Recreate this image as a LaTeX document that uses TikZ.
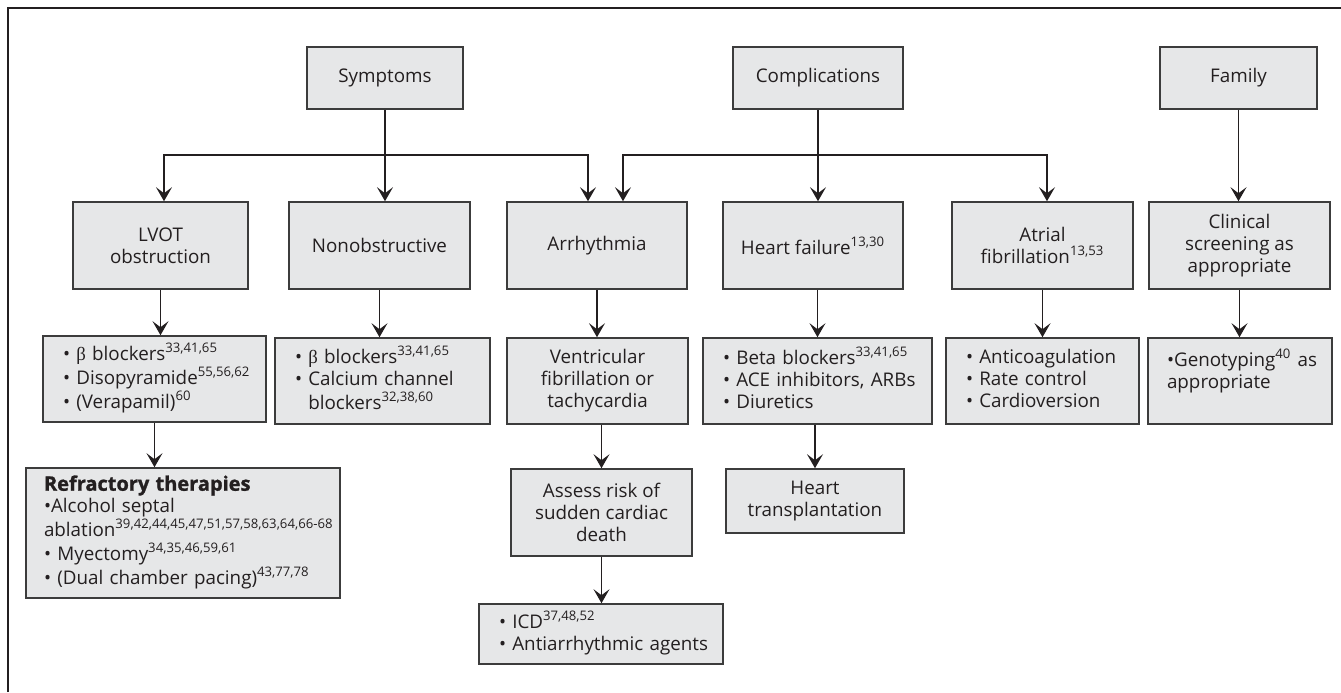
\documentclass[tikz,border=0pt]{standalone}
\usepackage{fontspec}
\setmainfont{Open Sans}
\newfontfamily\betafont{Liberation Serif}
\usetikzlibrary{arrows.meta, positioning, calc}
\definecolor{boxgray}{HTML}{E6E7E8}
\definecolor{linegray}{HTML}{3C3C3C}
\definecolor{inkgray}{HTML}{231F20}
\newcommand{\bl}{{\betafont β}}
\newcommand{\rows}[1]{\begin{tabular}{@{}l@{}}#1\end{tabular}}

\begin{document}
\begin{tikzpicture}[x=0.5pt, y=-0.5pt, font=\fontsize{9.4}{11}\selectfont, text=inkgray,
    box/.style={draw=linegray, line width=0.8pt, fill=boxgray, align=center, inner sep=0pt},
    listbox/.style={box, align=left, inner xsep=10pt},
    flow/.style={-{Stealth[length=7pt, width=8pt, inset=3pt]}, line width=0.65pt, draw=inkgray},
    stem/.style={line width=1pt, draw=inkgray}]
        \useasboundingbox (0,0) rectangle (1341,692);
        \draw[line width=0.6pt, draw=inkgray] (8,692) -- (8,8) -- (1341,8);

        \node[box, minimum width=78pt, minimum height=31pt] (sym) at (385,78) {Symptoms};
        \node[box, minimum width=85pt, minimum height=31pt] (comp) at (818,78) {Complications};
        \node[box, minimum width=78.5pt, minimum height=31pt] (fam) at (1238.5,78) {Family};

        \node[box, minimum width=87.5pt, minimum height=43.5pt] (lvot) at (160.5,245.5) {LVOT\\obstruction};
        \node[box, minimum width=90.5pt, minimum height=43.5pt] (nonob) at (379.5,245.5) {Nonobstructive};
        \node[box, minimum width=90pt, minimum height=43.5pt] (arrh) at (597,245.5) {Arrhythmia};
        \node[box, minimum width=90pt, minimum height=43.5pt] (hf) at (813,245.5) {Heart failure\textsuperscript{13,30}};
        \node[box, minimum width=90.5pt, minimum height=43.5pt] (af) at (1042.5,245.5) {Atrial\\fibrillation\textsuperscript{13,53}};
        \node[box, minimum width=90.5pt, minimum height=43.5pt] (clin) at (1239.5,245.5) {Clinical\\screening as\\appropriate};

        \node[listbox, text width=91.5pt, minimum height=43pt] (lvotrx) at (154.5,379) {\rows{• \bl\ blockers\textsuperscript{33,41,65}\\• Disopyramide\textsuperscript{55,56,62}\\• (Verapamil)\textsuperscript{60}}};
        \node[listbox, text width=87.5pt, minimum height=43pt] (nonrx) at (382.5,381) {\rows{• \bl\ blockers\textsuperscript{33,41,65}\\• Calcium channel\\\phantom{•\ }blockers\textsuperscript{32,38,60}}};
        \node[box, minimum width=90.5pt, minimum height=43pt] (vf) at (597.5,381) {Ventricular\\fibrillation or\\tachycardia};
        \node[listbox, text width=94.5pt, minimum height=43pt] (hfrx) at (817.5,381) {\rows{• Beta blockers\textsuperscript{33,41,65}\\• ACE inhibitors, ARBs\\• Diuretics}};
        \node[listbox, text width=76.5pt, minimum height=43pt] (afrx) at (1042.5,381) {\rows{• Anticoagulation\\• Rate control\\• Cardioversion}};
        \node[listbox, inner xsep=9.5pt, text width=73pt, minimum height=43pt] (gen) at (1240,381) {\parbox[c][32pt][t]{73pt}{\rows{•Genotyping\textsuperscript{40} as\\appropriate}}};

        \node[listbox, inner xsep=9pt, text width=139pt, minimum height=65pt] (refr) at (183,533) {\rows{{\fontsize{10}{11}\selectfont\addfontfeature{FakeBold=1.2}\textbf{Refractory therapies}}\\•Alcohol septal\\ablation\textsuperscript{39,42,44,45,47,51,57,58,63,64,66-68}\\• Myectomy\textsuperscript{34,35,46,59,61}\\• (Dual chamber pacing)\textsuperscript{43,77,78}}};
        \node[box, minimum width=90.5pt, minimum height=43.5pt] (risk) at (601.5,512.5) {Assess risk of\\sudden cardiac\\death};
        \node[box, minimum width=89pt, minimum height=32pt] (htx) at (815,501) {Heart\\transplantation};
        \node[listbox, text width=102pt, minimum height=30pt] (icd) at (601,634) {\rows{• ICD\textsuperscript{37,48,52}\\• Antiarrhythmic agents}};

        \coordinate (busy) at (0,155);
        \draw[stem] (sym.south) -- (sym.south |- busy);
        \draw[flow] (sym.south |- busy) -| ([xshift=1.75pt]lvot.north);
        \draw[flow] (sym.south |- busy) -- (sym.south |- nonob.north);
        \draw[flow] (sym.south |- busy) -| ([xshift=-4.5pt]arrh.north);
        \draw[stem] (comp.south) -- (comp.south |- busy);
        \draw[flow] (comp.south |- busy) -- (comp.south |- hf.north);
        \draw[flow] (comp.south |- busy) -| ([xshift=13pt]arrh.north);
        \draw[flow] (comp.south |- busy) -| ([xshift=2.25pt]af.north);
        \draw[flow] (fam.south) -- (fam.south |- clin.north);

        \draw[flow] (lvot.south) -- (lvot.south |- lvotrx.north);
        \draw[flow] (nonob.south) -- (nonob.south |- nonrx.north);
        \draw[flow] (arrh.south) -- (arrh.south |- vf.north);
        \draw[flow] (hfrx.north |- hf.south) -- (hfrx.north);
        \draw[flow] (af.south) -- (af.south |- afrx.north);
        \draw[flow] (clin.south) -- (clin.south |- gen.north);

        \draw[flow] (lvotrx.south) -- (lvotrx.south |- refr.north);
        \draw[flow] (risk.north |- vf.south) -- (risk.north);
        \draw[flow] (htx.north |- hfrx.south) -- (htx.north);
        \draw[flow] (risk.south) -- (risk.south |- icd.north);
    \end{tikzpicture}
\end{document}
